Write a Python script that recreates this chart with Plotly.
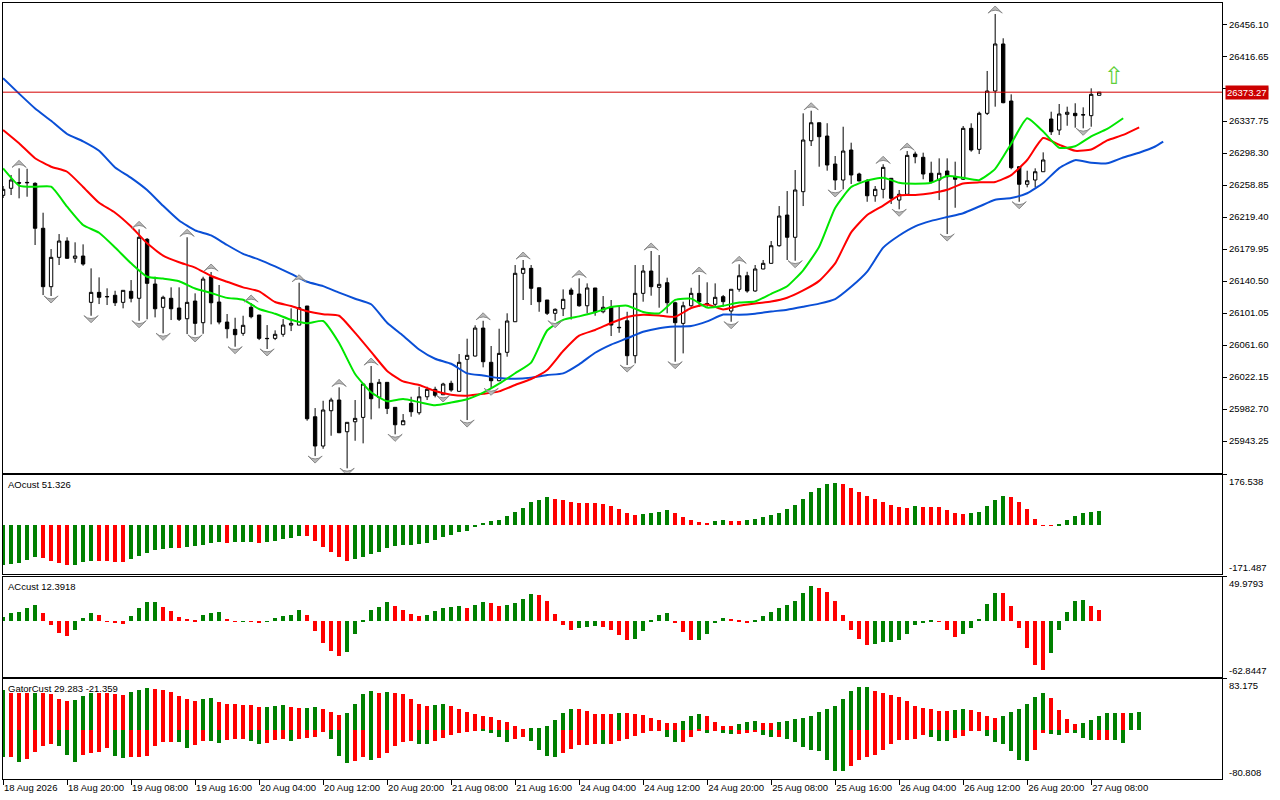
# Alligator chart with AO / AC / Gator panels (MT5 look)
import plotly.graph_objects as go
from plotly.subplots import make_subplots

FONT = 'Liberation Sans'
GREEN = '#008000'
RED = '#ff0000'

# one label every 8 bars (H1 bars)
time_labels = ['18 Aug 2026', '18 Aug 20:00', '19 Aug 08:00', '19 Aug 16:00', '20 Aug 04:00',
	'20 Aug 12:00', '20 Aug 20:00', '21 Aug 08:00', '21 Aug 16:00', '24 Aug 04:00',
	'24 Aug 12:00', '24 Aug 20:00', '25 Aug 08:00', '25 Aug 16:00', '26 Aug 04:00',
	'26 Aug 12:00', '26 Aug 20:00', '27 Aug 08:00']

price_ticks = [26456.10, 26416.65, 26377.20, 26337.75, 26298.30, 26258.85, 26219.40,
	26179.95, 26140.50, 26101.05, 26061.60, 26022.15, 25982.70, 25943.25]

opens = [26246.1, 26254.8, 26261.7, 26261.5, 26260.9, 26205.5, 26133.5, 26169.7, 26189.8, 26168.5,
	26171.3, 26114.2, 26126.5, 26121.0, 26122.9, 26114.2, 26127.8, 26119.2, 26191.9, 26136.8,
	26108.1, 26119.2, 26107.2, 26094.0, 26115.8, 26089.1, 26145.8, 26114.6, 26089.9, 26080.9,
	26076.0, 26108.1, 26098.6, 26069.8, 26069.8, 26074.8, 26086.2, 26086.2, 26109.7, 25973.2,
	25937.1, 25980.6, 25993.8, 25954.7, 25967.0, 25972.4, 26014.4, 25997.1, 26015.6, 25984.8,
	25963.3, 25989.7, 25978.1, 25997.8, 26007.0, 26000.3, 26014.4, 26004.5, 26044.0, 26048.0,
	26082.5, 26040.3, 26017.6, 26052.6, 26090.3, 26150.0, 26156.1, 26132.2, 26117.1, 26100.7,
	26106.3, 26129.4, 26124.5, 26110.0, 26131.9, 26102.6, 26108.1, 26083.4, 26091.5, 26048.4,
	26125.3, 26152.8, 26132.7, 26138.4, 26113.7, 26088.3, 26110.0, 26125.3, 26112.1, 26111.8,
	26121.2, 26103.5, 26130.3, 26147.0, 26128.2, 26155.3, 26162.3, 26184.0, 26221.8, 26194.4,
	26250.6, 26313.4, 26335.6, 26319.2, 26284.7, 26265.0, 26302.0, 26272.4, 26263.8, 26245.6,
	26253.5, 26267.1, 26240.3, 26247.4, 26297.0, 26293.0, 26273.3, 26265.0, 26276.1, 26269.1,
	26265.9, 26328.7, 26302.8, 26347.2, 26374.7, 26432.7, 26362.4, 26281.4, 26259.7, 26265.0,
	26275.2, 26340.2, 26326.6, 26346.0, 26347.2, 26345.1, 26344.3, 26369.4]
highs = [26257.6, 26271.2, 26279.4, 26278.9, 26262.2, 26224.7, 26179.9, 26198.4, 26194.4, 26188.2,
	26185.7, 26156.1, 26145.0, 26131.5, 26128.5, 26129.0, 26141.7, 26204.2, 26193.5, 26145.8,
	26122.4, 26132.7, 26132.7, 26194.4, 26125.3, 26145.8, 26151.6, 26135.6, 26099.8, 26095.2,
	26097.7, 26113.4, 26098.6, 26086.2, 26079.7, 26093.6, 26106.8, 26138.4, 26109.7, 25983.9,
	25992.9, 25996.6, 26009.4, 25966.3, 25993.8, 26013.5, 26035.7, 26019.7, 26015.6, 25984.8,
	25976.5, 25997.8, 26010.2, 26010.2, 26010.2, 26015.1, 26017.6, 26050.5, 26069.4, 26085.9,
	26091.5, 26060.4, 26081.7, 26100.7, 26160.2, 26166.4, 26160.2, 26132.2, 26117.1, 26106.8,
	26130.2, 26132.2, 26143.8, 26137.6, 26131.9, 26122.0, 26117.1, 26108.8, 26102.6, 26160.2,
	26160.2, 26177.5, 26172.5, 26144.6, 26115.0, 26115.0, 26132.2, 26147.9, 26138.9, 26137.6,
	26123.3, 26130.3, 26161.1, 26151.9, 26160.2, 26166.4, 26189.8, 26232.9, 26251.4, 26277.3,
	26347.2, 26350.4, 26335.6, 26335.0, 26294.6, 26330.7, 26311.0, 26274.0, 26266.2, 26257.6,
	26284.4, 26267.1, 26252.7, 26300.7, 26300.0, 26298.7, 26287.6, 26291.7, 26291.7, 26287.6,
	26331.6, 26334.9, 26349.2, 26399.4, 26469.6, 26439.7, 26370.6, 26281.4, 26276.5, 26279.4,
	26299.1, 26349.2, 26358.7, 26355.4, 26359.6, 26354.6, 26378.0, 26373.27]
lows = [26242.8, 26246.5, 26242.4, 26244.4, 26184.9, 26123.2, 26122.0, 26160.2, 26168.0, 26163.0,
	26159.3, 26097.7, 26112.1, 26110.9, 26109.7, 26106.8, 26114.2, 26091.5, 26093.3, 26095.7,
	26076.0, 26092.4, 26091.2, 26075.1, 26074.0, 26075.5, 26087.1, 26087.1, 26069.8, 26059.5,
	26073.0, 26094.5, 26067.7, 26056.7, 26067.7, 26071.8, 26078.8, 26086.0, 25968.3, 25924.7,
	25933.7, 25949.8, 25953.0, 25909.6, 25943.6, 25940.4, 25970.0, 25983.5, 25976.5, 25951.5,
	25963.0, 25973.2, 25975.7, 25993.8, 25997.1, 26000.0, 26004.0, 26004.0, 25969.1, 26047.5,
	26034.1, 26008.2, 26017.0, 26047.2, 26090.0, 26117.1, 26110.9, 26102.6, 26098.6, 26091.5,
	26097.3, 26093.0, 26108.8, 26100.7, 26097.7, 26100.7, 26072.7, 26076.7, 26036.9, 26039.0,
	26115.0, 26122.4, 26107.6, 26100.7, 26041.0, 26051.3, 26108.8, 26108.8, 26108.8, 26108.8,
	26108.8, 26090.3, 26127.3, 26126.1, 26127.3, 26155.0, 26162.0, 26182.8, 26166.4, 26165.5,
	26232.9, 26306.9, 26281.4, 26276.5, 26252.7, 26253.5, 26260.1, 26263.5, 26238.2, 26238.2,
	26242.4, 26235.4, 26228.9, 26246.5, 26285.6, 26265.9, 26260.9, 26240.3, 26198.4, 26230.8,
	26265.0, 26299.9, 26297.0, 26345.1, 26355.4, 26359.6, 26278.2, 26238.2, 26256.0, 26256.0,
	26275.0, 26320.5, 26320.5, 26331.9, 26329.5, 26328.7, 26330.7, 26369.4]
closes = [26253.5, 26265.0, 26261.2, 26262.0, 26205.5, 26133.5, 26169.7, 26189.8, 26168.5, 26171.3,
	26161.4, 26126.5, 26120.4, 26121.3, 26113.7, 26129.0, 26119.2, 26194.4, 26137.6, 26106.3,
	26120.4, 26106.3, 26093.3, 26114.2, 26088.3, 26142.9, 26113.7, 26089.9, 26081.7, 26074.3,
	26085.9, 26096.5, 26069.8, 26069.5, 26074.8, 26086.2, 26088.3, 26107.6, 25970.7, 25937.1,
	25981.5, 25993.8, 25953.5, 25966.3, 25971.2, 26013.5, 25995.4, 26015.6, 25983.5, 25963.3,
	25968.3, 25979.4, 25997.8, 26007.0, 25999.6, 26013.5, 26006.1, 26040.3, 26048.9, 26082.5,
	26041.0, 26017.6, 26051.3, 26091.2, 26150.0, 26156.1, 26131.5, 26115.0, 26100.7, 26105.6,
	26117.9, 26124.1, 26110.0, 26131.9, 26101.9, 26108.1, 26086.2, 26083.0, 26048.4, 26125.3,
	26152.8, 26133.5, 26136.4, 26113.7, 26089.1, 26110.0, 26125.3, 26115.0, 26112.5, 26120.4,
	26115.0, 26130.3, 26147.0, 26128.2, 26155.3, 26162.3, 26184.0, 26220.6, 26194.4, 26252.7,
	26314.3, 26335.6, 26318.4, 26283.5, 26265.0, 26300.7, 26271.2, 26263.8, 26245.6, 26253.5,
	26280.6, 26242.4, 26247.4, 26295.4, 26293.7, 26272.4, 26262.9, 26273.3, 26269.1, 26265.9,
	26328.7, 26302.0, 26347.2, 26374.7, 26432.7, 26360.3, 26280.2, 26259.7, 26264.1, 26275.2,
	26289.7, 26324.5, 26346.4, 26348.5, 26344.3, 26345.5, 26370.6, 26373.27]

# alligator lines, read every second bar (shifted forward 8 / 5 / 3 bars)
jaw_bars = list(range(0, 145, 2)) + [145]
jaw = [26390.4, 26371.5, 26353.2, 26338.0, 26321.7, 26312.7, 26301.0, 26280.4, 26267.7, 26252.7,
	26233.2, 26215.1, 26202.9, 26196.7, 26184.9, 26174.0, 26166.9, 26158.5, 26149.4, 26139.6,
	26134.2, 26126.2, 26118.7, 26111.9, 26089.1, 26073.1, 26056.1, 26044.7, 26038.5, 26026.7,
	26024.0, 26020.9, 26019.9, 26021.4, 26024.6, 26026.7, 26037.8, 26052.1, 26062.2, 26069.9,
	26077.9, 26082.4, 26084.4, 26085.1, 26090.7, 26099.1, 26098.9, 26100.2, 26102.9, 26105.1,
	26108.7, 26112.6, 26118.3, 26133.4, 26152.1, 26181.6, 26196.6, 26207.9, 26214.6, 26219.4,
	26224.1, 26232.3, 26240.6, 26242.8, 26248.7, 26261.3, 26279.7, 26289.5, 26286.3, 26285.6,
	26292.8, 26298.7, 26306.3, 26312.2]
teeth_bars = list(range(0, 143, 2))
teeth = [26326.7, 26310.3, 26291.9, 26281.4, 26275.2, 26256.5, 26236.9, 26224.7, 26207.6, 26187.0,
	26171.9, 26163.6, 26157.0, 26146.7, 26139.6, 26132.7, 26127.8, 26114.6, 26109.6, 26103.3,
	26099.6, 26097.7, 26076.5, 26053.2, 26029.7, 26016.7, 26012.3, 26004.9, 26000.2, 25999.1,
	26001.4, 26004.5, 26012.3, 26019.7, 26030.8, 26054.2, 26073.2, 26080.1, 26088.8, 26096.2,
	26098.8, 26098.0, 26096.4, 26107.2, 26111.7, 26105.4, 26110.1, 26112.8, 26115.2, 26119.9,
	26128.9, 26140.7, 26162.2, 26200.5, 26221.9, 26233.5, 26246.0, 26246.5, 26248.7, 26252.9,
	26260.7, 26262.1, 26262.6, 26271.1, 26289.7, 26316.7, 26308.5, 26301.0, 26302.6, 26313.8,
	26320.7, 26330.0]
lips_bars = list(range(0, 141, 2))
lips = [26279.4, 26258.2, 26256.6, 26256.8, 26232.1, 26209.5, 26200.0, 26181.8, 26162.3, 26145.8,
	26143.5, 26140.3, 26131.3, 26125.7, 26119.7, 26117.4, 26106.0, 26100.1, 26092.7, 26088.4,
	26091.2, 26064.1, 26025.9, 26003.3, 25992.3, 25995.0, 25991.2, 25987.4, 25990.7, 25994.7,
	26002.9, 26013.9, 26026.8, 26040.0, 26079.5, 26092.6, 26096.9, 26101.9, 26108.5, 26110.1,
	26102.4, 26100.6, 26117.2, 26118.8, 26107.7, 26109.9, 26113.9, 26115.2, 26124.7, 26134.1,
	26153.7, 26182.8, 26230.5, 26256.3, 26264.4, 26267.7, 26261.6, 26260.5, 26261.6, 26269.9,
	26267.7, 26264.9, 26278.8, 26309.8, 26341.1, 26324.8, 26304.8, 26306.6, 26318.8, 26327.9,
	26341.1]

fractal_up = [2, 17, 23, 26, 31, 37, 42, 46, 60, 65, 72, 81, 87, 92, 101, 110, 113, 124]
fractal_down = [6, 11, 17, 20, 24, 29, 33, 39, 43, 49, 55, 58, 61, 69, 78, 84, 91, 99, 104,
	112, 118, 127, 135]

ao = [-139.6, -134.9, -131.4, -121.8, -111.1, -114.7, -124.3, -131.4, -139.6, -138.5,
	-127.8, -124.3, -124.8, -125.3, -127.8, -128.3, -119.3, -106.5, -95.9, -86.3,
	-81.7, -78.1, -78.8, -74.6, -73.8, -67.5, -60.4, -56.8, -60.4, -59.6,
	-58.9, -58.0, -60.4, -59.5, -53.3, -48.3, -44.7, -35.5, -36.0, -53.3,
	-74.6, -92.3, -110.1, -124.3, -117.2, -110.1, -99.4, -92.3, -78.1, -72.1,
	-69.0, -68.0, -63.9, -60.4, -50.8, -39.1, -33.0, -22.4, -18.8, -3.6,
	8.5, 14.2, 20.2, 34.4, 46.2, 59.3, 81.7, 88.8, 98.4, 93.7,
	87.7, 80.6, 80.0, 79.4, 77.1, 74.6, 67.5, 55.7, 42.6, 35.5,
	39.1, 44.0, 47.6, 52.2, 45.1, 30.9, 20.2, 13.1, 9.6, 16.7,
	20.2, 17.0, 16.5, 17.8, 21.3, 28.4, 35.5, 42.6, 55.7, 70.0,
	91.3, 117.2, 130.3, 144.5, 148.1, 146.5, 130.3, 116.1, 101.9, 91.3,
	80.6, 71.0, 62.9, 59.3, 66.4, 66.0, 65.5, 65.0, 52.2, 42.6,
	39.1, 42.6, 48.6, 66.4, 87.7, 101.9, 98.4, 80.6, 55.7, 23.8,
	-1.2, -1.8, 6.0, 20.2, 34.4, 45.1, 48.6, 51.326]

ac = [4.6, 9.2, 10.4, 15.4, 18.4, 9.2, -4.2, -12.7, -16.1, -9.2,
	3.5, 9.2, 6.9, -0.5, -1.5, -3.0, 5.8, 15.0, 21.9, 22.1,
	16.1, 11.5, 4.6, 2.3, 2.0, 6.9, 9.2, 10.4, 2.3, -0.4,
	-0.2, -0.5, -0.7, 0.3, 3.8, 5.8, 6.9, 12.7, 6.9, -10.4,
	-24.2, -33.4, -39.1, -34.5, -13.8, 1.2, 12.7, 16.1, 21.9, 17.3,
	12.7, 8.1, 5.8, 6.9, 11.5, 15.0, 16.1, 17.3, 15.0, 18.4,
	21.9, 20.7, 17.3, 18.4, 20.7, 25.3, 31.1, 29.9, 23.0, 8.1,
	-3.5, -9.2, -6.9, -5.8, -4.6, -5.8, -9.2, -15.0, -20.7, -19.6,
	-10.4, 1.2, 6.9, 9.2, -0.8, -11.9, -20.7, -20.5, -13.8, -2.3,
	3.5, 2.3, 1.2, -0.8, 1.0, 5.8, 10.4, 15.0, 18.4, 23.0,
	32.2, 40.3, 38.0, 33.4, 23.0, 6.9, -9.2, -19.6, -26.5, -25.3,
	-23.0, -22.8, -20.7, -13.8, -3.5, -0.8, 0.8, -0.5, -9.2, -17.3,
	-13.8, -6.9, 2.3, 19.6, 32.2, 32.0, 17.3, -6.9, -29.9, -49.5,
	-54.1, -35.7, -9.2, 10.4, 23.0, 24.2, 17.3, 12.3918]

gator_up = [64.7, 59.7, 59.6, 59.5, 59.7, 59.6, 59.4, 50.7, 46.3, 48.0,
	54.7, 59.7, 59.6, 59.5, 59.4, 57.4, 61.3, 65.2, 68.0, 66.4,
	64.7, 61.3, 54.7, 49.6, 46.3, 49.6, 51.3, 45.0, 42.9, 42.8,
	41.3, 41.2, 37.9, 38.0, 38.1, 41.3, 37.9, 36.3, 36.4, 36.5,
	34.6, 29.6, 24.5, 27.9, 42.9, 58.0, 63.0, 59.7, 61.3, 59.7,
	58.0, 49.6, 42.9, 39.6, 41.3, 41.5, 39.6, 34.6, 29.6, 26.2,
	22.9, 21.2, 16.2, 12.8, 6.1, 0.3, 1.5, 3.0, 6.1, 16.2,
	27.9, 34.6, 34.4, 31.2, 26.2, 26.0, 25.8, 27.9, 27.7, 26.2,
	24.5, 19.5, 16.2, 11.2, 11.0, 14.5, 22.9, 26.2, 22.9, 12.8,
	6.1, 6.0, 9.5, 12.8, 14.5, 11.2, 11.0, 12.8, 14.5, 17.8,
	19.5, 22.9, 29.6, 34.6, 39.6, 49.6, 63.0, 69.7, 69.9, 63.0,
	59.7, 56.3, 53.0, 46.3, 39.6, 36.3, 34.6, 31.2, 31.0, 32.9,
	34.6, 32.9, 29.6, 22.9, 19.5, 22.9, 29.6, 34.6, 42.9, 53.0,
	59.7, 51.3, 32.9, 17.8, 9.5, 11.2, 16.2, 22.9, 27.9, 28.1,
	27.8, 28.0, 29.283]
gator_down = [-45.2, -45.0, -52.4, -48.5, -35.7, -27.3, -24.0, -27.3, -40.7, -52.4,
	-40.7, -37.4, -37.2, -30.7, -42.4, -46.8, -45.2, -44.1, -42.4, -27.3,
	-20.6, -20.5, -20.7, -30.7, -25.7, -19.0, -19.2, -21.8, -16.2, -14.5,
	-14.4, -18.4, -24.0, -21.8, -16.2, -15.1, -19.0, -15.1, -12.8, -11.7,
	-3.3, -15.1, -42.4, -54.1, -50.8, -44.1, -49.1, -46.8, -37.4, -26.8,
	-20.1, -18.4, -23.4, -23.9, -18.4, -13.4, -8.4, -5.0, -3.3, -1.7,
	-2.0, -5.0, -11.7, -20.1, -15.1, -11.7, -18.4, -33.5, -43.5, -45.2,
	-38.5, -31.8, -25.1, -24.9, -23.4, -23.6, -23.4, -18.4, -15.1, -10.0,
	-5.0, -1.7, -1.5, -11.7, -20.1, -19.9, -11.7, -1.7, -5.0, -1.7,
	-5.0, -6.7, -6.6, -5.0, -3.3, -8.4, -11.7, -11.5, -15.1, -20.1,
	-28.4, -33.5, -35.1, -50.2, -66.9, -67.2, -60.2, -50.2, -45.2, -41.8,
	-33.5, -23.4, -16.7, -16.5, -15.1, -8.4, -11.7, -18.4, -18.5, -13.4,
	-10.0, -1.7, -1.5, -10.0, -20.1, -23.4, -35.1, -50.2, -51.9, -33.5,
	-5.0, -6.7, -8.4, -5.0, -5.2, -13.4, -16.7, -16.5, -16.4, -16.7,
	-21.359]

ao_range = (-171.487, 176.538)
ac_range = (-62.8447, 49.9793)
gator_range = (-80.808, 83.175)


def trend_colors(values, by_size=False):
	# green when the bar grows, red when it shrinks, unchanged keeps colour
	cols = []
	for k, v in enumerate(values):
		if k == 0:
			cols.append(GREEN)
			continue
		a, b = (abs(v), abs(values[k - 1])) if by_size else (v, values[k - 1])
		if a > b:
			cols.append(GREEN)
		elif a < b:
			cols.append(RED)
		else:
			cols.append(cols[-1])
	return cols


bars = list(range(len(closes)))
tick_step = 8
px_price = 1.2328  # price per pixel in the main window

fig = make_subplots(rows=4, cols=1, shared_xaxes=True, vertical_spacing=0.01)

fig.add_trace(go.Candlestick(
	x=bars, open=opens, high=highs, low=lows, close=closes,
	increasing=dict(line=dict(color='black', width=1), fillcolor='white'),
	decreasing=dict(line=dict(color='black', width=1), fillcolor='black'),
	whiskerwidth=0, showlegend=False, hoverinfo='skip'
), row=1, col=1)

for xs, ys, col in ((jaw_bars, jaw, '#0a4fd6'), (teeth_bars, teeth, '#ff0000'), (lips_bars, lips, '#00e600')):
	fig.add_trace(go.Scatter(
		x=xs, y=ys, mode='lines',
		line=dict(color=col, width=2, shape='spline', smoothing=0.5),
		showlegend=False, hoverinfo='skip'
	), row=1, col=1)

# fractal arrowheads
fig.add_trace(go.Scatter(
	x=fractal_up, y=[highs[i] + 8 * px_price for i in fractal_up], mode='markers',
	marker=dict(symbol='arrow-wide', angle=0, size=10, color='#b9b9b9', line=dict(color='#8a8a8a', width=1)),
	showlegend=False, hoverinfo='skip'
), row=1, col=1)
fig.add_trace(go.Scatter(
	x=fractal_down, y=[lows[i] - 7 * px_price for i in fractal_down], mode='markers',
	marker=dict(symbol='arrow-wide', angle=180, size=10, color='#b9b9b9', line=dict(color='#8a8a8a', width=1)),
	showlegend=False, hoverinfo='skip'
), row=1, col=1)

fig.add_trace(go.Bar(x=list(range(len(ao))), y=ao, marker_color=trend_colors(ao),
	marker_line_width=0, width=0.5, showlegend=False, hoverinfo='skip'), row=2, col=1)
fig.add_trace(go.Bar(x=list(range(len(ac))), y=ac, marker_color=trend_colors(ac),
	marker_line_width=0, width=0.5, showlegend=False, hoverinfo='skip'), row=3, col=1)
fig.add_trace(go.Bar(x=list(range(len(gator_up))), y=gator_up, marker_color=trend_colors(gator_up, True),
	marker_line_width=0, width=0.5, showlegend=False, hoverinfo='skip'), row=4, col=1)
fig.add_trace(go.Bar(x=list(range(len(gator_down))), y=gator_down, marker_color=trend_colors(gator_down, True),
	marker_line_width=0, width=0.5, showlegend=False, hoverinfo='skip'), row=4, col=1)

axis_font = dict(family=FONT, size=9.5, color='black')
x_range = [-0.01, 152.35]
for r in range(1, 5):
	fig.update_xaxes(range=x_range, showgrid=False, zeroline=False, showline=True, mirror=True,
		linecolor='black', linewidth=1, automargin=False, row=r, col=1)
fig.update_xaxes(rangeslider_visible=False, row=1, col=1)
fig.update_xaxes(tickvals=list(range(0, len(closes), tick_step)), ticktext=time_labels,
	ticks='outside', ticklen=5, tickcolor='black', ticklabelposition='outside right',
	tickangle=0, tickfont=axis_font, showticklabels=True, row=4, col=1)

fig.update_yaxes(side='right', showgrid=False, zeroline=False, showline=True, mirror=True,
	linecolor='black', linewidth=1, ticks='outside', ticklen=4, tickcolor='black',
	tickfont=axis_font, automargin=False)
fig.update_yaxes(range=[25904.2, 26483.2], tickvals=price_ticks,
	ticktext=['%.2f' % v for v in price_ticks], domain=[0.3947, 1.0], row=1, col=1)
sub_ranges = [ao_range, ac_range, gator_range]
sub_domains = [[0.2638, 0.3918], [0.1314, 0.2607], [0.0, 0.1289]]
for k in range(3):
	lo, hi = sub_ranges[k]
	fig.update_yaxes(range=[lo, hi], tickvals=[hi], showticklabels=False,
		domain=sub_domains[k], row=k + 2, col=1)

last = closes[-1]
fig.add_shape(type='line', xref='x domain', yref='y', x0=0, x1=1, y0=last, y1=last,
	line=dict(color='#d40000', width=1))

notes = [
	dict(x=1, xref='paper', y=last, yref='y', text='%.2f' % last, xanchor='left', xshift=3,
		bgcolor='#cc0000', font=dict(family=FONT, size=9.5, color='white'), borderpad=1),
	dict(x=len(closes) + 0.8, xref='x', y=last + 16 * px_price, yref='y', text='⇧',
		font=dict(family='DejaVu Sans', size=24, color='#5fcf3a')),
	dict(x=0.0025, xref='paper', y=1, yref='y2 domain', yanchor='top', yshift=-2, xanchor='left',
		text='AOcust %.3f' % ao[-1], font=axis_font),
	dict(x=0.0025, xref='paper', y=1, yref='y3 domain', yanchor='top', yshift=-2, xanchor='left',
		text='ACcust %.4f' % ac[-1], font=axis_font),
	dict(x=0.0025, xref='paper', y=1, yref='y4 domain', yanchor='top', yshift=-2, xanchor='left',
		text='GatorCust %.3f %.3f' % (gator_up[-1], gator_down[-1]), font=axis_font),
]
labels_side = [('y2', ao_range, '%.3f'), ('y3', ac_range, '%.4f'), ('y4', gator_range, '%.3f')]
for ref, (lo, hi), fmt in labels_side:
	notes.append(dict(x=1, xref='paper', y=hi, yref=ref, text=fmt % hi, xanchor='left',
		yanchor='top', xshift=5, yshift=1, font=axis_font))
	notes.append(dict(x=1, xref='paper', y=lo, yref=ref, text=fmt % lo, xanchor='left',
		yanchor='bottom', xshift=5, yshift=-1, font=axis_font))
for a in notes:
	a['showarrow'] = False
	fig.add_annotation(**a)

fig.update_layout(
	width=1280, height=800,
	margin=dict(l=3, r=58, t=3, b=21, autoexpand=False),
	paper_bgcolor='white', plot_bgcolor='white',
	barmode='overlay', boxgap=0.4, bargap=0,
	showlegend=False,
	font=dict(family=FONT, size=9.5, color='black'),
)

# the page's default body margin would shift the whole chart by 8px
fig.write_html('out.html', config={'displayModeBar': False},
	post_script="document.body.style.margin='0px';")
